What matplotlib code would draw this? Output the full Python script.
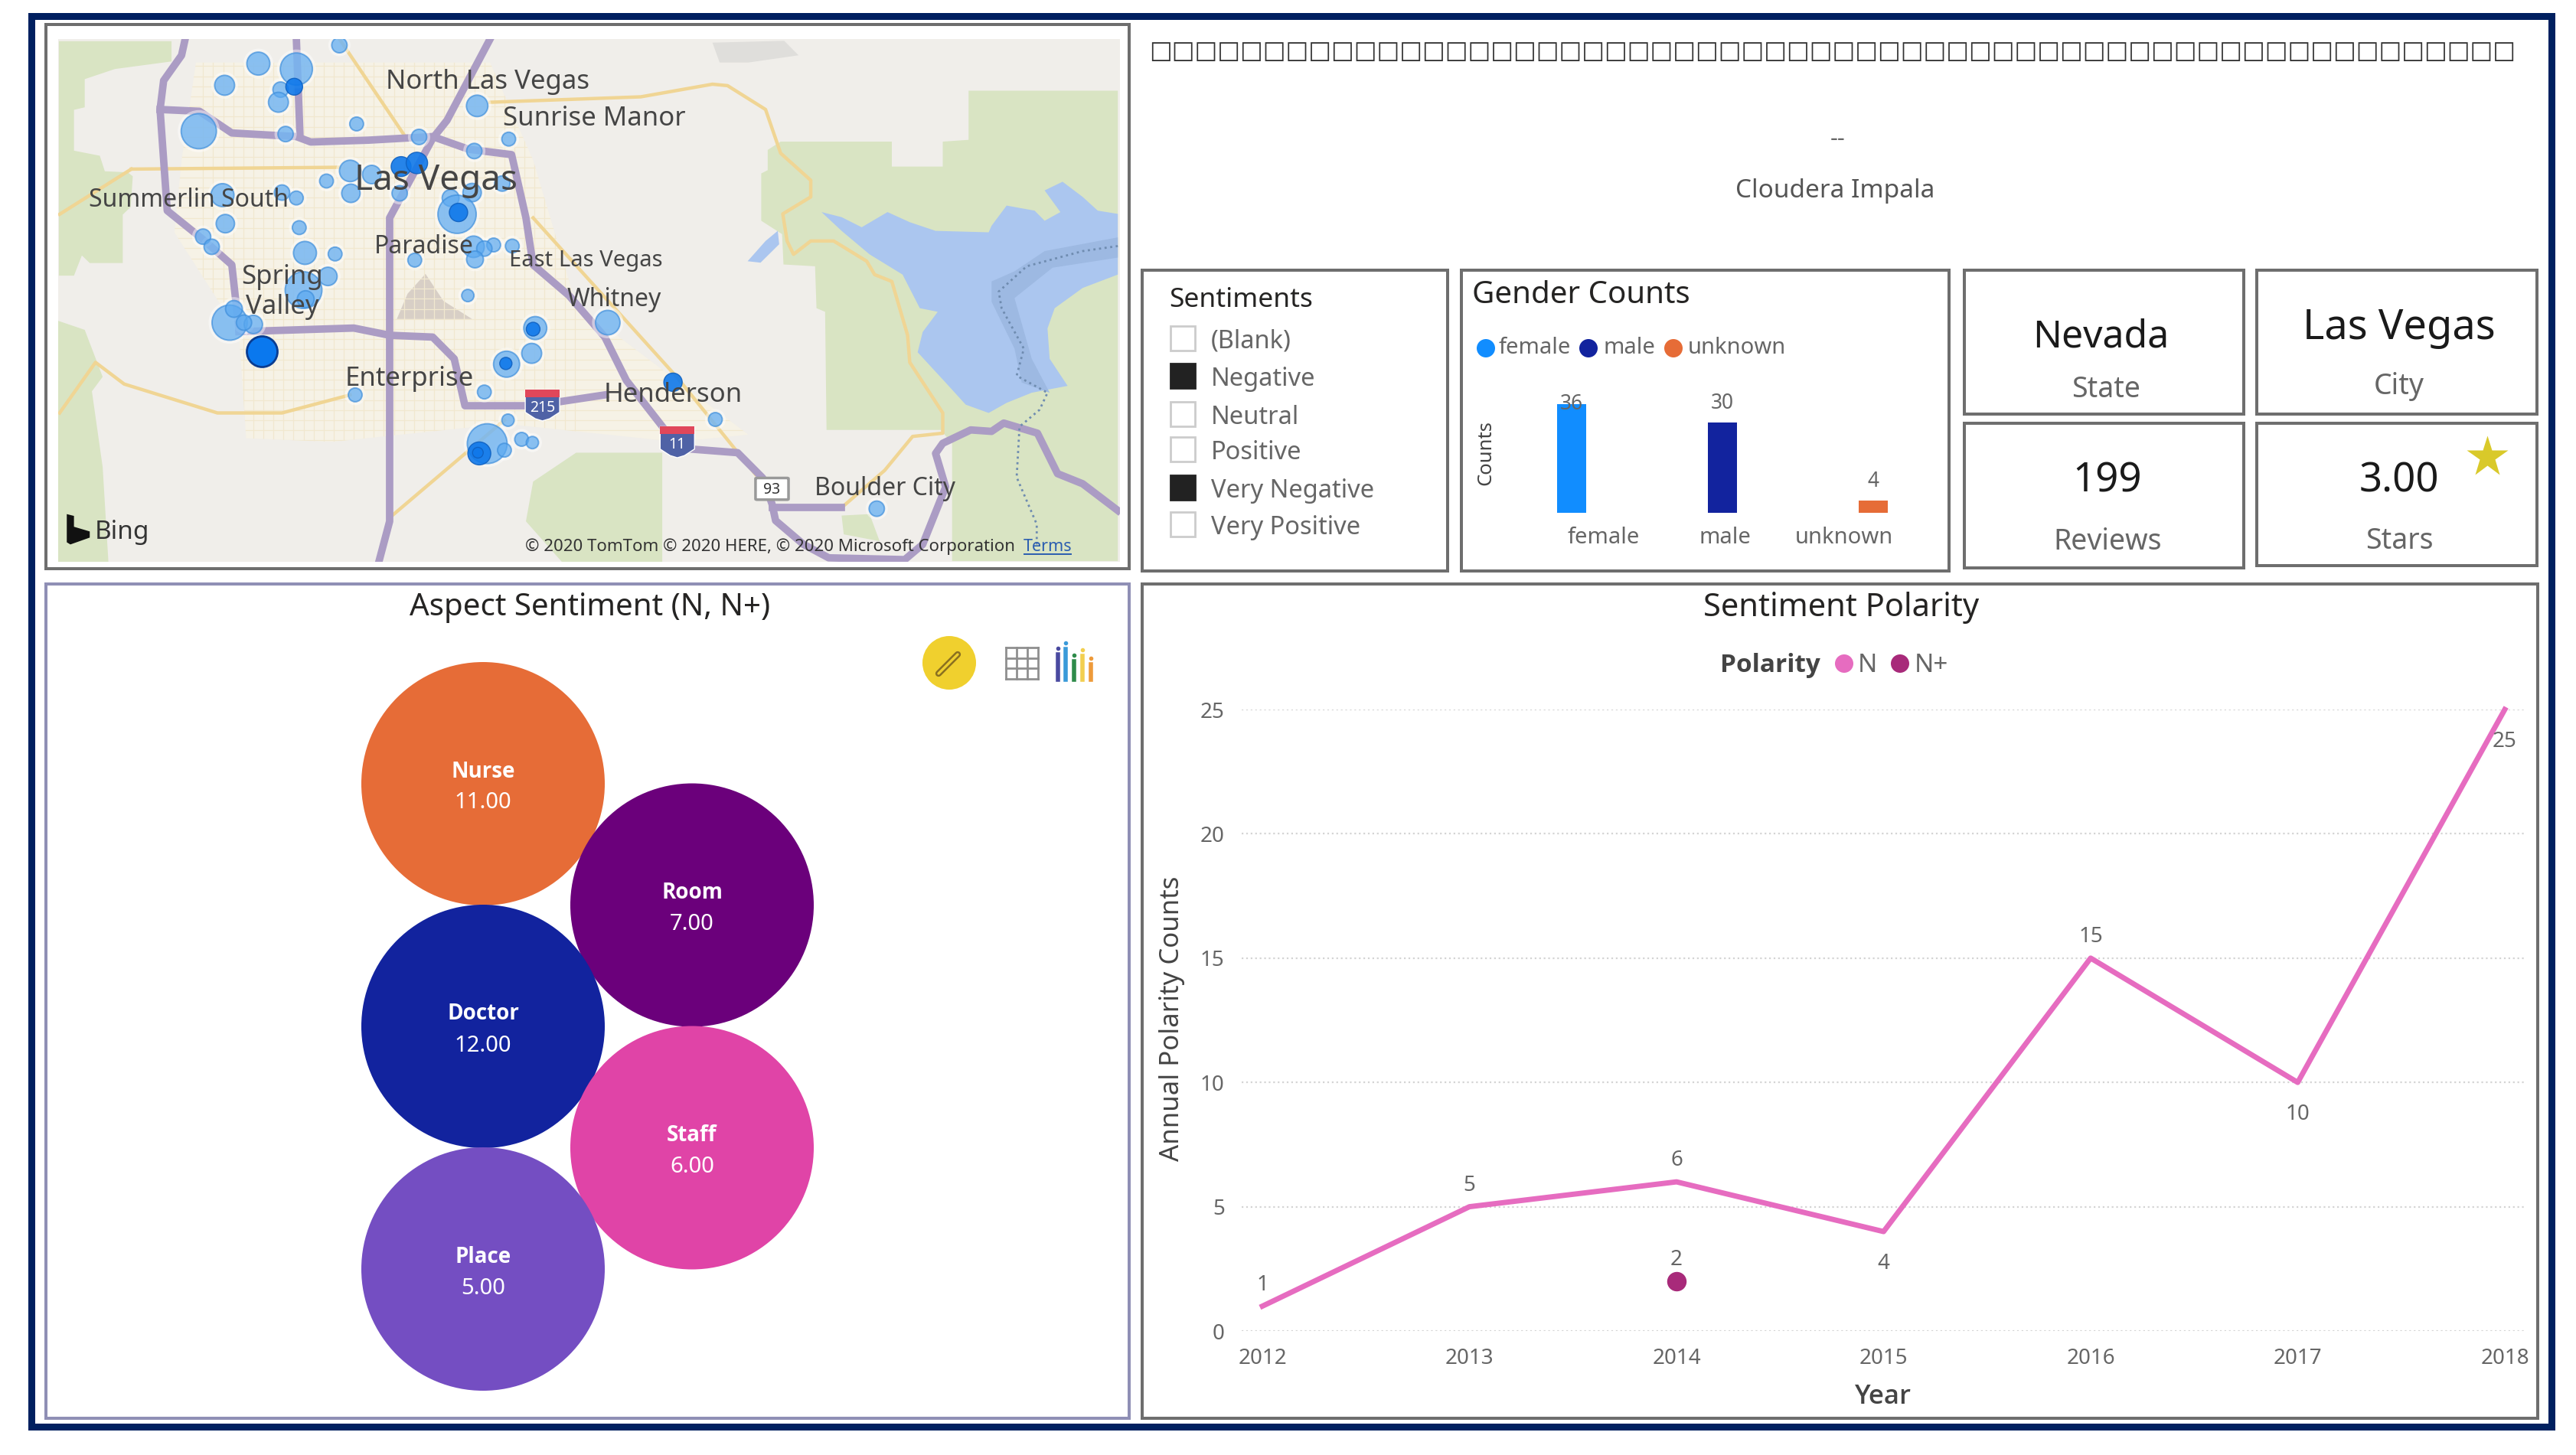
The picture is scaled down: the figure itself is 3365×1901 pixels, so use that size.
import matplotlib

matplotlib.use("Agg")
import matplotlib.pyplot as plt
from matplotlib.patches import Circle, FancyBboxPatch, Polygon, Rectangle

plt.rcParams["font.family"] = ["Noto Sans", "DejaVu Sans"]

# aspect bubbles
aspect_names = ["Nurse", "Room", "Doctor", "Staff", "Place"]
aspect_values = [11.00, 7.00, 12.00, 6.00, 5.00]
aspect_colors = ["#e66c37", "#6b007b", "#12239e", "#e044a7", "#744ec2"]

# sentiment polarity
years = [2012, 2013, 2014, 2015, 2016, 2017, 2018]
polarity_n = [1, 5, 6, 4, 15, 10, 25]
polarity_n_plus_year = [2014]
polarity_n_plus = [2]
y_ticks = [0, 5, 10, 15, 20, 25]

# gender counts
genders = ["female", "male", "unknown"]
gender_counts = [36, 30, 4]
gender_colors = ["#118dff", "#12239e", "#e66c37"]

# slicer
sentiments = ["(Blank)", "Negative", "Neutral", "Positive", "Very Negative", "Very Positive"]
sentiments_checked = [False, True, False, False, True, False]

# map bubbles: x, y in map units, diameter in pixels
bubble_x = [430, 317, 370, 270, 348, 345, 234, 622, 454, 355, 541, 666, 618, 445, 412, 475, 446, 514,
            615, 657, 267, 350, 370, 585, 594, 271, 374, 240, 252, 382, 424, 645, 671, 617, 632, 619,
            535, 414, 380, 383, 609, 277, 283, 310, 297, 804, 703, 698, 663, 452, 632, 665, 954, 684,
            699, 636, 660, 1179]
bubble_y = [82, 133, 148, 193, 205, 240, 320, 250, 300, 328, 336, 342, 375, 430, 458, 440, 492, 492,
            490, 465, 497, 490, 505, 505, 550, 576, 587, 612, 640, 657, 660, 635, 638, 640, 645, 675,
            677, 722, 760, 785, 775, 850, 812, 855, 850, 850, 865, 935, 965, 1050, 1042, 1120, 1118, 1173,
            1182, 1185, 1203, 1365]
bubble_d = [20, 30, 42, 26, 20, 26, 46, 28, 18, 20, 20, 18, 20, 28, 18, 24, 24, 20,
            24, 20, 30, 20, 18, 22, 50, 24, 18, 20, 20, 30, 18, 18, 18, 28, 20, 22,
            18, 24, 48, 22, 16, 46, 22, 24, 20, 32, 30, 26, 34, 18, 18, 16, 18, 18,
            16, 52, 18, 20]
dark_bubble_x = [367, 516, 538, 596, 700, 662, 895, 625, 623]
dark_bubble_y = [197, 418, 408, 545, 868, 963, 1015, 1212, 1210]
dark_bubble_d = [22, 26, 28, 24, 18, 16, 24, 30, 14]
solid_bubble = (322, 930, 40)

# map shapes, map units
green_areas = [
    [(39, 71), (196, 71), (196, 127), (117, 148), (75, 176), (75, 254), (60, 261), (60, 374), (96, 388), (103, 431),
     (135, 434), (142, 445), (139, 530), (128, 551), (128, 685), (82, 685), (71, 664), (60, 720), (39, 720)],
    [(38, 845), (75, 870), (100, 1000), (85, 1040), (100, 1250), (108, 1512), (38, 1512)],
    [(1027, 372), (1045, 349), (1200, 349), (1200, 418), (1271, 418), (1271, 349), (1307, 344), (1307, 208),
     (1515, 208), (1515, 1510), (1284, 1510), (1284, 1184), (1268, 1147), (1109, 1147), (1107, 820), (1095, 810),
     (1093, 694), (1049, 689), (1047, 605), (1018, 568), (1018, 437), (1027, 428)],
    [(700, 1290), (760, 1210), (880, 1210), (880, 1512), (740, 1512), (690, 1400)],
    [(1130, 1384), (1169, 1380), (1183, 1455), (1133, 1436)],
]
lake = [(1102, 544), (1130, 558), (1158, 586), (1194, 544), (1225, 572), (1261, 596), (1335, 600), (1339, 582),
        (1360, 526), (1399, 540), (1413, 568), (1435, 544), (1413, 484), (1438, 460), (1466, 502), (1487, 540),
        (1515, 549), (1515, 717), (1466, 754), (1427, 810), (1417, 866), (1420, 950), (1445, 1025), (1395, 1044),
        (1360, 1072), (1335, 1100), (1303, 1077), (1275, 1016), (1236, 932), (1243, 876), (1264, 820),
        (1239, 810), (1215, 717), (1169, 661), (1130, 596)]
lake_small = [(999, 680), (1024, 624), (1041, 596), (1043, 633), (1017, 684)]
lake_deep = [(1339, 736), (1371, 708), (1413, 652), (1515, 614), (1515, 670), (1424, 698), (1371, 782), (1395, 950),
             (1420, 1044), (1381, 1016), (1371, 922), (1339, 792)]
dam_line = [(1515, 638), (1466, 652), (1388, 694), (1349, 764), (1353, 810), (1384, 922), (1374, 997), (1417, 1044),
            (1406, 1091), (1378, 1138), (1374, 1278), (1402, 1408), (1402, 1464)]
urban_area = [(230, 130), (640, 130), (700, 400), (760, 800), (900, 1010), (1000, 1160), (900, 1180), (660, 1130),
              (420, 1180), (300, 1170), (290, 880), (200, 600), (210, 400)]
rock_area = [(550, 715), (575, 790), (615, 840), (510, 840), (525, 770)]
grey_hills = [(950, 75), (1050, 70), (1070, 110), (1000, 130), (960, 130)]
road_lines = [
    [(215, 65), (210, 110), (185, 180), (180, 260), (190, 540), (240, 620), (280, 690), (290, 870)],
    [(180, 260), (235, 265), (280, 325), (370, 335), (390, 350), (470, 345), (560, 335), (610, 370), (670, 385),
     (690, 560), (700, 690), (750, 775), (800, 890), (830, 1010), (885, 1150)],
    [(370, 65), (375, 330)],
    [(640, 65), (580, 290), (560, 340), (500, 560), (500, 1400), (485, 1512)],
    [(290, 875), (450, 865), (500, 885), (560, 890), (590, 950), (605, 1080), (700, 1080), (800, 1050)],
    [(920, 1200), (985, 1210), (1020, 1280), (1033, 1352), (1038, 1398), (1077, 1464), (1112, 1501), (1218, 1506),
     (1243, 1464), (1275, 1305), (1261, 1212), (1271, 1184), (1310, 1147), (1339, 1151), (1356, 1128), (1403, 1156),
     (1431, 1268), (1466, 1296), (1515, 1370)],
    [(1034, 1362), (1130, 1362)],
]
minor_roads = [
    [(640, 240), (850, 225), (950, 190), (971, 194), (1024, 260), (1045, 381), (1087, 456), (1087, 502), (1048, 549),
     (1054, 624), (1063, 661), (1087, 624), (1119, 624), (1165, 680), (1176, 717), (1200, 736), (1222, 885),
     (1225, 960), (1271, 1100), (1271, 1156), (1229, 1165), (1190, 1259), (1130, 1362)],
    [(40, 1100), (90, 960), (130, 1020), (260, 1100), (350, 1100), (445, 1050)],
    [(140, 425), (430, 420)],
    [(140, 425), (40, 550)],
    [(430, 65), (520, 330)],
    [(700, 560), (900, 1000), (1010, 1270)],
    [(660, 1120), (500, 1390)],
]
map_labels = [
    ("North Las Vegas", 637, 178, 25), ("Sunrise Manor", 785, 280, 25), ("Las Vegas", 565, 450, 33),
    ("Summerlin South", 220, 505, 23), ("Paradise", 548, 635, 23), ("East Las Vegas", 773, 672, 21),
    ("Spring", 350, 718, 25), ("Valley", 350, 800, 25), ("Whitney", 813, 780, 23),
    ("Enterprise", 527, 1000, 25), ("Henderson", 895, 1045, 25), ("Boulder City", 1190, 1303, 23),
]

TEXT_DARK = "#252423"
TEXT_GREY = "#666666"
NAVY = "#002060"
BOLD_FONT = ["Open Sans", "DejaVu Sans"]

fig = plt.figure(figsize=(33.66, 19.01), dpi=100)
W, H = 3366, 1901


def axes_px(x0, y0, x1, y1, zorder=2):
    ax = fig.add_axes([x0 / W, 1 - y1 / H, (x1 - x0) / W, (y1 - y0) / H], zorder=zorder)
    return ax


def pts(px):
    return px * 0.72


def panel(x0, y0, x1, y1, color="#6e6e6e", lw=4):
    canvas.add_patch(Rectangle((x0, y0), x1 - x0, y1 - y0, fc="white", ec=color, lw=pts(lw)))


def label(x, y, s, size, color=TEXT_GREY, ha="center", **kw):
    # noto sits a little high with va=center
    canvas.text(x, y + 4, s, fontsize=size, color=color, ha=ha, va="center", **kw)


canvas = axes_px(0, 0, W, H, zorder=1)
canvas.set_xlim(0, W)
canvas.set_ylim(H, 0)
canvas.axis("off")

canvas.add_patch(Rectangle((41, 21), 3292, 1843, fc="white", ec=NAVY, lw=pts(9)))
panel(60, 32, 1475, 743)
panel(60, 763, 1475, 1853, color="#8f8fb5")
panel(1492, 763, 3315, 1853)
panel(1492, 353, 1891, 746)
panel(1909, 353, 2546, 746)
panel(2566, 353, 2931, 541)
panel(2948, 353, 3314, 541)
panel(2566, 553, 2931, 742)
panel(2948, 553, 3314, 739)

# map
ax_map = axes_px(76, 51, 1463, 734)
ax_map.set_xlim(38, 1518)
ax_map.set_ylim(1512, 65)
ax_map.set_xticks([])
ax_map.set_yticks([])
ax_map.set_facecolor("#f0eeea")
for s in ax_map.spines.values():
    s.set_visible(False)
urban_patch = Polygon(urban_area, fc="#f6f2e6", ec="none")
ax_map.add_patch(urban_patch)
ax_map.add_patch(Polygon(grey_hills, fc="#dfdedb", ec="none"))
for area in green_areas:
    ax_map.add_patch(Polygon(area, fc="#d9e4c3", ec="none"))
ax_map.add_patch(Polygon(rock_area, fc="#d8cfc6", ec="none"))
ax_map.add_patch(Polygon(lake, fc="#abc6ef", ec="none"))
ax_map.add_patch(Polygon(lake_small, fc="#abc6ef", ec="none"))
ax_map.add_patch(Polygon(lake_deep, fc="#9db9e2", ec="none"))
for x in range(240, 760, 14):
    ax_map.plot([x, x], [130, 1180], color="#f1e8cf", lw=0.9)[0].set_clip_path(urban_patch)
for y in range(140, 1180, 28):
    ax_map.plot([200, 1000], [y, y], color="#f1e8cf", lw=0.9)[0].set_clip_path(urban_patch)
for line in minor_roads:
    ax_map.plot(*zip(*line), color="#f0d594", lw=3.2, solid_joinstyle="round")
for line in road_lines:
    ax_map.plot(*zip(*line), color="#ab9cc4", lw=7, solid_joinstyle="round")
ax_map.plot(*zip(*dam_line), color="#6f8cb0", lw=2, ls=":")

ax_map.scatter(bubble_x, bubble_y, s=[pts(d + 9) ** 2 for d in bubble_d], color="white", alpha=0.45,
               linewidths=0, zorder=4)
ax_map.scatter(bubble_x, bubble_y, s=[pts(d) ** 2 for d in bubble_d], color="#5aa8f0", alpha=0.7,
               edgecolors="#3f8fdc", linewidths=1.4, zorder=4)
ax_map.scatter(dark_bubble_x, dark_bubble_y, s=[pts(d) ** 2 for d in dark_bubble_d], color="#0f78ea", alpha=0.9,
               edgecolors="#0f60c0", linewidths=1, zorder=5)
ax_map.scatter([solid_bubble[0]], [solid_bubble[1]], s=pts(solid_bubble[2]) ** 2, color="#0a78ee",
               edgecolors="#0a3c90", linewidths=2, zorder=5)

for name, x, y, size in map_labels:
    ax_map.text(x, y + 6, name, fontsize=size, color="#454545", ha="center", va="center", zorder=6)

# highway shields
for x, y, tag in [(713, 1078, "215"), (901, 1180, "11")]:
    ax_map.add_patch(Polygon([(x - 24, y - 42), (x + 24, y - 42), (x + 24, y + 20), (x + 10, y + 38), (x, y + 44),
                              (x - 10, y + 38), (x - 24, y + 20)], fc="#4f62a6", ec="white", lw=1, zorder=6))
    ax_map.add_patch(Rectangle((x - 24, y - 42), 48, 20, fc="#e0475a", ec="none", zorder=6))
    ax_map.text(x, y + 8, tag, fontsize=14, color="white", ha="center", va="center", zorder=7)
ax_map.add_patch(FancyBboxPatch((1012, 1282), 42, 56, boxstyle="round,pad=2", fc="white", ec="#999999", lw=2.5, zorder=6))
ax_map.text(1033, 1312, "93", fontsize=14, color="#333333", ha="center", va="center", zorder=7)

ax_map.add_patch(Polygon([(50, 1380), (60, 1385), (60, 1415), (82, 1428), (82, 1445), (55, 1464), (50, 1458)],
                         fc="#111111", ec="none", zorder=6))
ax_map.text(127, 1430, "Bing", fontsize=24, color="#333333", ha="center", va="center", zorder=6)
ax_map.text(1030, 1470, "© 2020 TomTom © 2020 HERE, © 2020 Microsoft Corporation", fontsize=16, color="#333333",
            ha="center", va="center", zorder=6)
ax_map.text(1417, 1470, "Terms", fontsize=15.5, color="#2a5db0", ha="center", va="center", zorder=6)
ax_map.plot([1385, 1450], [1490, 1490], color="#2a5db0", lw=1.4, zorder=6)

# top right text
canvas.text(2394, 67, "\u25a1" * 60, family="DejaVu Sans", fontsize=22.7, color="#333333", ha="center", va="center")
label(2401, 178, "--", 22)
label(2397, 246, "Cloudera Impala", 24, color="#555555")

# sentiment slicer
label(1527, 388, "Sentiments", 25.5, color=TEXT_DARK, ha="left")
slicer_y = [442, 491, 541, 587, 637, 685]
for name, checked, y in zip(sentiments, sentiments_checked, slicer_y):
    canvas.add_patch(Rectangle((1529, y - 16), 32, 32, fc="#222222" if checked else "white",
                               ec="#222222" if checked else "#cccccc", lw=2))
    label(1582, y, name, 23.5, ha="left")

# gender counts
label(1923, 382, "Gender Counts", 29, color=TEXT_DARK, ha="left")
legend_dots = [1941, 2075, 2186]
legend_text = [1958, 2095, 2205]
for name, col, dot_x, text_x in zip(genders, gender_colors, legend_dots, legend_text):
    canvas.add_patch(Circle((dot_x, 455), 12, fc=col, ec="none"))
    label(text_x, 451, name, 21, ha="left")
label(1941, 588, "Counts", 18.5, color="#444444", rotation=90)

ax_g = axes_px(1954.5, 500, 2545.5, 670)
ax_g.set_xlim(-0.5, 2.5)
ax_g.set_ylim(0, 43.2)
ax_g.patch.set_alpha(0)
ax_g.axis("off")
ax_g.bar(range(3), gender_counts, width=0.193, color=gender_colors)
for i, v in enumerate(gender_counts):
    # the tallest label is pushed down onto its bar
    ax_g.annotate(str(v), (i, v), xytext=(0, 0 if v == 36 else 8), textcoords="offset points", fontsize=19,
                  color=TEXT_GREY, ha="center", va="center" if v == 36 else "bottom")
for name, x in zip(genders, [2095, 2253, 2409]):
    label(x, 699, name, 21)

# kpi cards
cards = [("Nevada", "State", 36, 2744, 436, 2751, 505), ("Las Vegas", "City", 39, 3134, 424, 3134, 501),
         ("199", "Reviews", 38, 2753, 625, 2753, 704), ("3.00", "Stars", 38, 3134, 625, 3134, 703)]
for value, caption, size, vx, vy, cx, cy in cards:
    label(vx, vy, value, size, color="#1a1a1a")
    label(cx, cy, caption, 27)
canvas.plot([3249], [597], marker="*", ms=pts(56), color="#d9c92a", mec="none", zorder=5)

# aspect bubbles
label(771, 790, "Aspect Sentiment (N, N+)", 29, color=TEXT_DARK)
canvas.add_patch(Circle((1240, 866), 35, fc="#f0d02e", ec="none"))
canvas.plot([1226, 1251], [880, 855], color="#8a7020", lw=6, solid_capstyle="round")
canvas.plot([1226, 1251], [880, 855], color="#f0d02e", lw=2.4, solid_capstyle="round")
for x in [1314, 1328, 1342, 1356]:
    canvas.plot([x, x], [846, 887], color="#8f8f8f", lw=2)
for y in [846, 860, 873, 887]:
    canvas.plot([1314, 1356], [y, y], color="#8f8f8f", lw=2)
for x, top, col in [(1382, 855, "#4a4aa0"), (1392, 848, "#3a9ad9"), (1403, 864, "#2e8b4a"),
                    (1414, 857, "#f2cf50"), (1425, 868, "#ee9a3a")]:
    canvas.plot([x, x], [top, 888], color=col, lw=4)
    canvas.plot([x], [top - 8], marker="o", ms=3, color=col)

ax_b = axes_px(61, 810, 1474, 1852)
ax_b.set_xlim(0, 1413)
ax_b.set_ylim(1042, 0)
ax_b.axis("off")
ax_b.patch.set_alpha(0)
for i, (name, value, col) in enumerate(zip(aspect_names, aspect_values, aspect_colors)):
    # two staggered columns, each step down is half a bubble
    bx = 570 + (i % 2) * 273
    by = 214 + i * 158.5
    ax_b.add_patch(Circle((bx, by), 159, fc=col, ec="none"))
    ax_b.text(bx, by - 16, name, family=BOLD_FONT, fontsize=20, fontweight="bold", color="white", ha="center", va="center")
    ax_b.text(bx, by + 25, f"{value:.2f}", fontsize=21, color="white", ha="center", va="center")

# sentiment polarity
label(2405, 790, "Sentiment Polarity", 30, color=TEXT_DARK)
label(2312, 865, "Polarity", 24, color="#444444", family=BOLD_FONT, fontweight="bold")
canvas.add_patch(Circle((2409, 867), 12, fc="#e66cc0", ec="none"))
label(2427, 865, "N", 24, ha="left")
canvas.add_patch(Circle((2482, 867), 12, fc="#a82a7a", ec="none"))
label(2501, 865, "N+", 24, ha="left")

ax_l = axes_px(1622, 927, 3299, 1739, zorder=3)
ax_l.set_xlim(2011.9, 2018.1)
ax_l.set_ylim(0, 25)
ax_l.patch.set_alpha(0)
for s in ax_l.spines.values():
    s.set_visible(False)
ax_l.set_yticks(y_ticks)
ax_l.set_xticks(years)
ax_l.tick_params(length=0, labelsize=20, labelcolor=TEXT_GREY, pad=16)
ax_l.grid(axis="y", color="#d4d4d4", ls=":", lw=1.6)
ax_l.set_axisbelow(True)
ax_l.plot(years, polarity_n, color="#e66cc0", lw=5, clip_on=False)
ax_l.scatter(polarity_n_plus_year, polarity_n_plus, s=pts(24) ** 2, color="#a82a7a", zorder=4)
below = {2015, 2017, 2018}
for year, v in zip(years, polarity_n):
    off = -30 if year in below else 20
    ax_l.annotate(str(v), (year, v), xytext=(0, off), textcoords="offset points", fontsize=20, color=TEXT_GREY,
                  ha="center", va="center")
ax_l.annotate("2", (2014, 2), xytext=(0, 20), textcoords="offset points", fontsize=20, color=TEXT_GREY,
              ha="center", va="center")
label(1531, 1327, "Annual Polarity Counts", 25, color="#444444", rotation=90)
label(2460, 1821, "Year", 25, color="#444444", family=BOLD_FONT, fontweight="semibold")

fig.savefig("out.png", dpi=100, facecolor="white")
